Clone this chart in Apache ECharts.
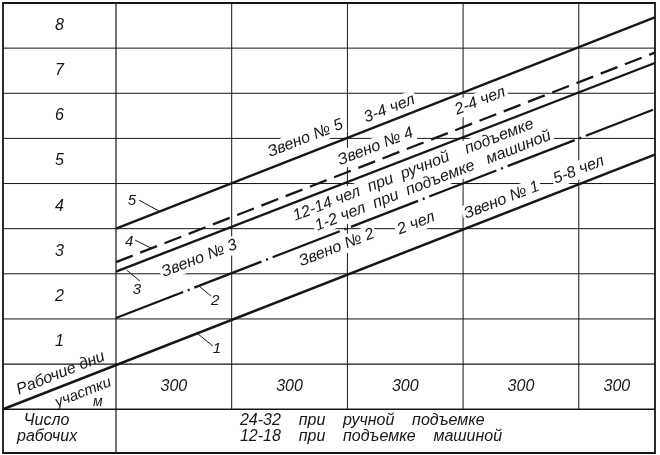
<!DOCTYPE html>
<html><head><meta charset="utf-8">
<script src="https://cdn.jsdelivr.net/npm/echarts@6/dist/echarts.min.js"></script>
<style>html,body{margin:0;padding:0;background:#fff}#c{width:660px;height:455px}</style>
</head><body><div id="c"></div>
<script>
// ---------- data ----------
const dayRows = [1, 2, 3, 4, 5, 6, 7, 8];            // Рабочие дни
const sections = [300, 300, 300, 300, 300];         // участки, м
const sectionLabels = ['300', '300', '300', '300', '300'];
// lines: [участок position m, working day]
const line1 = [[-293, -1.0], [1397, 4.64]];
const line2 = [[0, 1.02], [1397, 5.65]];
const line3 = [[0, 2.05], [1397, 6.67]];
const line4 = [[0, 2.26], [1397, 6.90]];
const line5 = [[0, 3.0], [1397, 7.68]];
const leaderLabels = ['1', '2', '3', '4', '5'];
const leaderText = [[262, 0.33], [257, 1.40], [54, 1.64], [34, 2.70], [41, 3.61]];
const leaderFrom = [[251, 0.40], [246, 1.51], [62, 1.84], [49, 2.75], [60, 3.63]];
const leaderTo = [[208, 0.70], [215, 1.73], [28, 2.08], [93, 2.56], [114, 3.38]];
const noteTexts = ['Звено № 5', '3-4 чел', 'Звено № 4', '2-4 чел',
  '12-14 чел  при  ручной    подъемке', '1-2 чел  при  подъемке   машиной',
  'Звено № 3', 'Звено № 2', '2 чел', 'Звено № 1', '5-8 чел'];
const notePos = [[491, 5.0], [709, 5.66], [673, 4.82], [944, 5.83], [771, 4.30], [822, 4.06],
  [216, 2.34], [572, 2.58], [778, 3.12], [1000, 3.63], [1200, 4.30]];
const headerTexts = ['Рабочие дни', 'участки', 'м'];
const workersLabel = ['Число', 'рабочих'];
const workersText = ['24-32    при    ручной    подъемке', '12-18    при    подъемке    машиной'];

// ---------- layout ----------
const X_MIN = -293, X_MAX = 1397.6, Y_MIN = -1.97, Y_MAX = 8;
const INK = '#161616';
const FF = '"Liberation Sans", Arial, sans-serif';
const f = (s) => 'italic ' + s + 'px ' + FF;

const chart = echarts.init(document.getElementById('c'), null, {renderer: 'canvas'});

function seg(a, b, w, dash) {
  return {type: 'line', shape: {x1: a[0], y1: a[1], x2: b[0], y2: b[1]},
    style: {stroke: INK, lineWidth: w, lineDash: dash || null}};
}
function txt(p, s, font, opts) {
  opts = opts || {};
  return {type: 'text', x: p[0], y: p[1], rotation: opts.rot || 0,
    style: Object.assign({text: s, fill: INK, font: font, align: opts.align || 'center',
      verticalAlign: 'middle'}, opts.bg ? {backgroundColor: '#fff', padding: [1, 2]} : {})};
}

function renderRows(params, api) {
  const d = dayRows[params.dataIndex];
  const a = api.coord([X_MIN, d]), b = api.coord([X_MAX, d]);
  return {type: 'group', children: [
    seg(a, b, d === Y_MAX ? 1.8 : 1),
    txt(api.coord([X_MIN / 2, d - 0.5]), String(d), f(16))
  ]};
}

function renderSections(params, api) {
  const i = params.dataIndex;
  let start = 0;
  for (let k = 0; k < i; k++) start += sections[k];
  const end = start + sections[i];
  const ch = [];
  if (end < X_MAX) ch.push(seg(api.coord([end, Y_MAX]), api.coord([end, -1]), 1));
  const mid = (start + Math.min(end, X_MAX)) / 2;
  ch.push(txt(api.coord([mid, -0.5]), sectionLabels[i], f(16)));
  return {type: 'group', children: ch};
}

function renderFrame(params, api) {
  const P = (m, d) => api.coord([m, d]);
  const tl = P(X_MIN, Y_MAX), br = P(X_MAX, Y_MIN);
  const ch = [];
  ch.push({type: 'rect', shape: {x: tl[0], y: tl[1], width: br[0] - tl[0], height: br[1] - tl[1]},
    style: {stroke: INK, lineWidth: 1.8, fill: null}});
  ch.push(seg(P(X_MIN, 0), P(X_MAX, 0), 1.3));
  ch.push(seg(P(X_MIN, -1), P(X_MAX, -1), 1.5));
  ch.push(seg(P(0, Y_MAX), P(0, Y_MIN), 1.2));
  // header cell
  const c1 = P(X_MIN, 0), c2 = P(0, -1);
  const w = c2[0] - c1[0], h = c2[1] - c1[1];
  const ang = Math.atan2(h, w);
  ch.push(txt([c1[0] + w * 0.51, c1[1] + h * 0.20], headerTexts[0], f(16), {rot: ang}));
  ch.push(txt([c1[0] + w * 0.71, c1[1] + h * 0.63], headerTexts[1], f(15), {rot: ang}));
  ch.push(txt([c1[0] + w * 0.84, c1[1] + h * 0.84], headerTexts[2], f(14)));
  // workers row
  const r1 = P(X_MIN, -1), r2 = P(0, Y_MIN), r3 = P(X_MAX, Y_MIN);
  const rh = r2[1] - r1[1];
  ch.push(txt([r1[0] + (r2[0] - r1[0]) * 0.385, r1[1] + rh * 0.27], workersLabel[0], f(16)));
  ch.push(txt([r1[0] + (r2[0] - r1[0]) * 0.39, r1[1] + rh * 0.63], workersLabel[1], f(16)));
  const lx = r2[0] + (r3[0] - r2[0]) * 0.23;
  ch.push(txt([lx, r1[1] + rh * 0.27], workersText[0], f(16), {align: 'left'}));
  ch.push(txt([lx, r1[1] + rh * 0.63], workersText[1], f(16), {align: 'left'}));
  return {type: 'group', children: ch};
}

function slopeAngle(api) {
  const a = api.coord([0, 0]), b = api.coord([300, 1]);
  return Math.atan2(a[1] - b[1], b[0] - a[0]);
}

function renderNotes(params, api) {
  const i = params.dataIndex;
  return txt(api.coord(notePos[i]), noteTexts[i], f(16), {rot: slopeAngle(api), bg: true});
}

function renderLeaders(params, api) {
  const i = params.dataIndex;
  return {type: 'group', children: [
    seg(api.coord(leaderFrom[i]), api.coord(leaderTo[i]), 1),
    txt(api.coord(leaderText[i]), leaderLabels[i], f(15))
  ]};
}

function lineSeries(name, data, dash, width) {
  return {type: 'line', name: name, data: data, showSymbol: false, z: 5, silent: true,
    lineStyle: {color: INK, width: width || 2.3, type: dash || 'solid', cap: 'butt'}};
}

chart.setOption({
  animation: false,
  backgroundColor: '#fff',
  grid: {left: 3, right: 5, top: 3, bottom: 2},
  xAxis: {type: 'value', min: X_MIN, max: X_MAX, show: false},
  yAxis: {type: 'value', min: Y_MIN, max: Y_MAX, show: false},
  series: [
    {type: 'custom', name: 'rows', z: 1, data: dayRows.map(d => [X_MIN, d]), renderItem: renderRows},
    {type: 'custom', name: 'sections', z: 1, data: sections.map((s, i) => [i * s, -1]), renderItem: renderSections},
    {type: 'custom', name: 'frame', z: 1, data: [[0, 0]], renderItem: renderFrame},
    {type: 'custom', name: 'notes', z: 3, data: notePos, renderItem: renderNotes},
    {type: 'custom', name: 'leaders', z: 3, data: leaderText, renderItem: renderLeaders},
    lineSeries('1', line1, 'solid', 2.5),
    lineSeries('2', line2, [72, 5, 2, 5], 2.3),
    lineSeries('3', line3, 'solid', 2.3),
    lineSeries('4', line4, [18, 8], 2.3),
    lineSeries('5', line5, 'solid', 2.3)
  ]
});
</script></body></html>
